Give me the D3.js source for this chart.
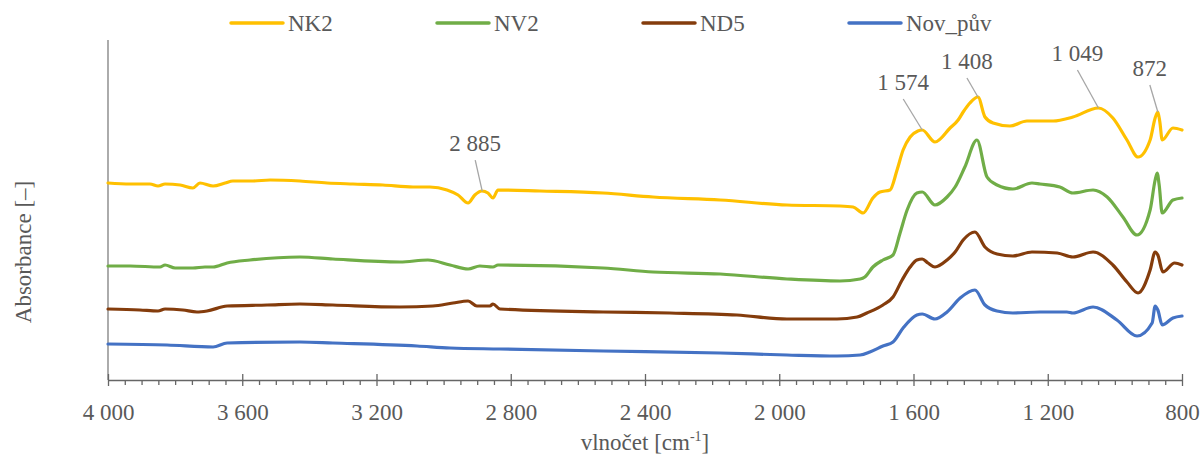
<!DOCTYPE html>
<html>
<head>
<meta charset="utf-8">
<script src="https://cdn.jsdelivr.net/npm/d3@7"></script>
<style>
  html, body { margin: 0; padding: 0; background: #fff; }
  svg { display: block; font-family: "Liberation Serif", "Times New Roman", serif; }
</style>
</head>
<body>
<svg id="chart" width="1200" height="461"></svg>
<script>
// ---- data: [wavenumber cm-1, absorbance (offset, a.u.)] ----
const seriesNames = ["NK2", "NV2", "ND5", "Nov_pův"];
const seriesColors = ["#FFC000", "#70AD47", "#843C0C", "#4472C4"];

const nk2 = [
  [4000,1.97],[3934,1.96],[3875,1.96],[3851,1.94],[3830,1.96],[3785,1.95],[3747,1.92],[3726,1.97],
  [3687,1.94],[3651,1.97],[3628,1.99],[3568,1.99],[3517,2.00],[3428,1.99],[3347,1.97],[3270,1.96],
  [3181,1.95],[3091,1.93],[3041,1.93],[2990,1.90],[2957,1.85],[2927,1.77],[2907,1.85],[2886,1.89],
  [2868,1.87],[2853,1.82],[2838,1.90],[2713,1.89],[2525,1.87],[2376,1.83],[2176,1.80],[1977,1.75],
  [1819,1.74],[1780,1.73],[1750,1.67],[1721,1.82],[1700,1.88],[1670,1.90],[1649,2.10],[1631,2.30],
  [1610,2.43],[1587,2.49],[1574,2.50],[1536,2.38],[1491,2.52],[1467,2.60],[1452,2.68],[1432,2.77],
  [1408,2.83],[1387,2.63],[1363,2.57],[1313,2.54],[1262,2.59],[1184,2.59],[1125,2.63],[1049,2.72],
  [1006,2.62],[964,2.40],[931,2.23],[895,2.40],[880,2.62],[872,2.68],[866,2.58],[859,2.40],
  [827,2.52],[800,2.50]
];
const nv2 = [
  [4000,1.14],[3934,1.14],[3845,1.13],[3830,1.15],[3800,1.12],[3747,1.12],[3711,1.13],[3687,1.13],
  [3645,1.17],[3577,1.20],[3428,1.23],[3330,1.21],[3130,1.18],[3047,1.20],[2981,1.15],[2927,1.11],
  [2892,1.14],[2853,1.13],[2838,1.15],[2525,1.12],[2376,1.08],[2176,1.06],[1977,1.01],[1819,0.99],
  [1759,1.01],[1745,1.03],[1721,1.13],[1691,1.20],[1661,1.25],[1640,1.47],[1619,1.70],[1590,1.87],
  [1574,1.88],[1536,1.75],[1500,1.83],[1476,1.93],[1447,2.13],[1411,2.40],[1381,2.03],[1351,1.95],
  [1304,1.91],[1247,1.97],[1223,1.96],[1164,1.93],[1125,1.87],[1065,1.90],[1023,1.83],[976,1.63],
  [934,1.45],[895,1.70],[880,2.00],[874,2.07],[868,1.95],[859,1.67],[827,1.80],[800,1.82]
];
const nd5 = [
  [4000,0.71],[3905,0.70],[3851,0.69],[3830,0.71],[3777,0.70],[3735,0.68],[3705,0.69],[3645,0.74],
  [3526,0.75],[3428,0.76],[3330,0.75],[3130,0.73],[3032,0.74],[2972,0.77],[2927,0.79],[2901,0.74],
  [2862,0.74],[2853,0.76],[2832,0.71],[2525,0.68],[2326,0.67],[2126,0.65],[1977,0.61],[1828,0.61],
  [1768,0.63],[1739,0.67],[1691,0.75],[1661,0.83],[1634,1.00],[1610,1.13],[1590,1.20],[1574,1.21],
  [1557,1.17],[1536,1.13],[1500,1.20],[1476,1.28],[1452,1.40],[1417,1.48],[1387,1.33],[1351,1.26],
  [1304,1.24],[1247,1.28],[1172,1.27],[1125,1.23],[1065,1.28],[1006,1.15],[964,0.98],[931,0.87],
  [895,1.10],[880,1.28],[872,1.25],[857,1.08],[822,1.17],[800,1.15]
];
const novPuv = [
  [4000,0.36],[3824,0.35],[3687,0.33],[3645,0.37],[3428,0.38],[3330,0.37],[3079,0.34],[2981,0.32],
  [2832,0.31],[2525,0.29],[2176,0.27],[1977,0.25],[1828,0.24],[1759,0.25],[1730,0.28],[1691,0.34],
  [1661,0.38],[1631,0.52],[1590,0.65],[1574,0.66],[1536,0.61],[1500,0.68],[1461,0.82],[1417,0.90],
  [1387,0.75],[1351,0.69],[1304,0.67],[1223,0.68],[1143,0.68],[1125,0.67],[1065,0.73],[994,0.60],
  [934,0.44],[889,0.57],[880,0.74],[872,0.70],[859,0.55],[827,0.62],[800,0.64]
];
const seriesData = [nk2, nv2, nd5, novPuv];

const xTickValues = [4000, 3600, 3200, 2800, 2400, 2000, 1600, 1200, 800];
const peakLabels = [2885, 1574, 1408, 1049, 872];   // annotated on NK2
const peakLeaderOffsets = [[-7,-31],[-19,-31],[-11,-19],[-21,-38],[-8,-27]];

// ---- layout ----
const svg = d3.select("#chart");
const mLeft = 108, mRight = 1182, mTop = 40, mBottom = 380;
const textColor = "#595959";
const fontSize = 23;

const x = d3.scaleLinear().domain([4000, 800]).range([mLeft, mRight]);
const y = d3.scaleLinear().domain([0, 3.4]).range([mBottom, mTop]);

const loc = d3.formatLocale({decimal: ",", thousands: "\u00a0", grouping: [3], currency: ["", ""]});
const fmt = loc.format(",d");

// y axis line (no ticks)
svg.append("line")
  .attr("x1", mLeft).attr("x2", mLeft).attr("y1", mTop).attr("y2", mBottom)
  .attr("stroke", "#7f7f7f").attr("stroke-width", 1.3);

// x axis: minor ticks
const minor = d3.range(4000, 799, -50).filter(v => !xTickValues.includes(v));
svg.append("g").attr("transform", `translate(0,${mBottom})`)
  .call(d3.axisBottom(x).tickValues(minor).tickSize(5).tickFormat(""))
  .call(g => g.select(".domain").remove())
  .call(g => g.selectAll("line").attr("stroke", "#666").attr("stroke-width", 1.3));

// x axis: major ticks
const xAxisG = svg.append("g").attr("transform", `translate(0,${mBottom})`)
  .call(d3.axisBottom(x).tickValues(xTickValues).tickSize(6).tickSizeOuter(0).tickPadding(18).tickFormat(fmt));
xAxisG.select(".domain").attr("stroke", "#666").attr("stroke-width", 1.3);
xAxisG.selectAll(".tick line").attr("y1", -6).attr("y2", 6).attr("stroke", "#666").attr("stroke-width", 1.3);
xAxisG.selectAll("text")
  .attr("fill", textColor).attr("font-size", fontSize)
  .attr("font-family", "Liberation Serif, Times New Roman, serif");

// axis titles
const xt = svg.append("text")
  .attr("x", (mLeft + mRight) / 2).attr("y", 450)
  .attr("text-anchor", "middle").attr("fill", textColor).attr("font-size", fontSize);
xt.append("tspan").text("vlnočet [cm");
xt.append("tspan").attr("font-size", 14).attr("dy", -9).text("-1");
xt.append("tspan").attr("dy", 9).text("]");

svg.append("text")
  .attr("transform", "translate(31,252) rotate(-90)")
  .attr("text-anchor", "middle").attr("fill", textColor).attr("font-size", fontSize)
  .text("Absorbance [–]");

// series lines
const line = d3.line()
  .x(d => x(d[0])).y(d => y(d[1]))
  .curve(d3.curveMonotoneX);

svg.append("g").selectAll("path")
  .data(seriesData)
  .join("path")
  .attr("d", line)
  .attr("fill", "none")
  .attr("stroke", (d, i) => seriesColors[i])
  .attr("stroke-width", 3.2)
  .attr("stroke-linejoin", "round")
  .attr("stroke-linecap", "round");

// peak annotations on NK2
function valueAt(data, wn) {
  for (let i = 0; i < data.length - 1; i++) {
    const a = data[i], b = data[i + 1];
    if (wn <= a[0] && wn >= b[0]) {
      const t = (a[0] - wn) / (a[0] - b[0]);
      return a[1] + t * (b[1] - a[1]);
    }
  }
  return data[data.length - 1][1];
}
const ann = svg.append("g").selectAll("g")
  .data(peakLabels)
  .join("g");
ann.append("line")
  .attr("x1", d => x(d)).attr("y1", d => y(valueAt(nk2, d)))
  .attr("x2", (d, i) => x(d) + peakLeaderOffsets[i][0])
  .attr("y2", (d, i) => y(valueAt(nk2, d)) + peakLeaderOffsets[i][1])
  .attr("stroke", "#a6a6a6").attr("stroke-width", 1.3);
ann.append("text")
  .attr("x", (d, i) => x(d) + peakLeaderOffsets[i][0])
  .attr("y", (d, i) => y(valueAt(nk2, d)) + peakLeaderOffsets[i][1] - 9)
  .attr("text-anchor", "middle")
  .attr("fill", textColor).attr("font-size", fontSize)
  .text(d => fmt(d));

// legend
const leg = svg.append("g").selectAll("g")
  .data(seriesNames)
  .join("g")
  .attr("transform", (d, i) => `translate(${231 + i * 206},0)`);
leg.append("line")
  .attr("x1", 0).attr("x2", 52).attr("y1", 23).attr("y2", 23)
  .attr("stroke", (d, i) => seriesColors[i]).attr("stroke-width", 3.5)
  .attr("stroke-linecap", "round");
leg.append("text")
  .attr("x", 57).attr("y", 31)
  .attr("fill", textColor).attr("font-size", fontSize)
  .text(d => d);
</script>
</body>
</html>
